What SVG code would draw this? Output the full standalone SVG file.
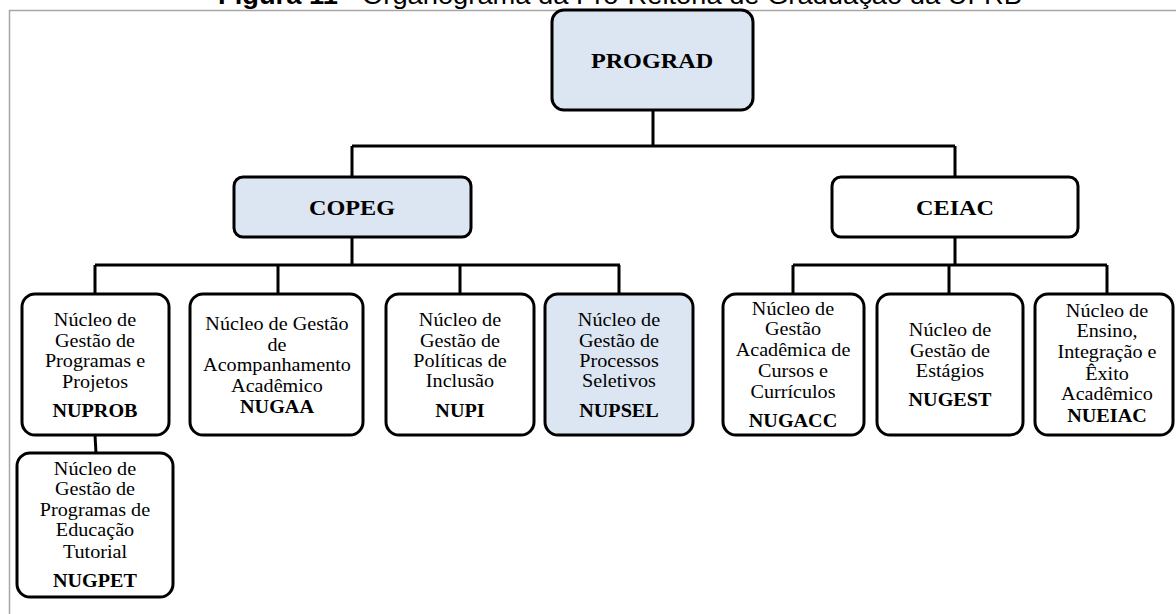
<svg xmlns="http://www.w3.org/2000/svg" width="1176" height="614" viewBox="0 0 1176 614">
<style>
.box{fill:#ffffff;stroke:#000;stroke-width:3}
.hl{fill:#dce6f2}
.t{font-family:"Liberation Serif","Times New Roman",serif;font-size:18px;text-anchor:middle;fill:#000}
.b{font-weight:bold}
.big{font-size:22px;font-weight:bold}
.con{fill:none;stroke:#000;stroke-width:3}
.frame{fill:none;stroke:#a6a6a6;stroke-width:1.5}
</style>
<rect width="1176" height="614" fill="#fff"/>
<text x="218" y="4" textLength="804" lengthAdjust="spacingAndGlyphs" style="font-family:'Liberation Sans',Arial,sans-serif;font-size:26px;fill:#000"><tspan font-weight="bold">Figura 11</tspan> - Organograma da Pró-Reitoria de Graduação da UFRB</text>
<path class="frame" d="M1176 10.5 H9.5 V614"/>
<g id="connectors">
<path class="con" d="M653 110 V146 M352 146 H955 M352 146 V177 M955 146 V177"/>
<path class="con" d="M352 237 V265 M95 265 H620 M95 265 V294 M278 265 V294 M460 265 V294 M619 265 V294"/>
<path class="con" d="M955 237 V265 M793 265 H1107 M793 265 V294 M949 265 V294 M1107 265 V294"/>
<path class="con" d="M95 435 L96 453"/>
</g>
<g id="prograd">
<rect class="box hl" x="552" y="10" width="201" height="100" rx="12"/>
<g transform="translate(652,0) scale(1.1,1)"><text class="t big" x="0" y="68">PROGRAD</text></g>
</g>
<g id="copeg">
<rect class="box hl" x="234" y="177" width="237" height="60" rx="9"/>
<g transform="translate(352,0) scale(1.1,1)"><text class="t big" x="0" y="215">COPEG</text></g>
</g>
<g id="ceiac">
<rect class="box" x="832" y="177" width="246" height="60" rx="9"/>
<g transform="translate(955,0) scale(1.1,1)"><text class="t big" x="0" y="215">CEIAC</text></g>
</g>
<g id="nuprob">
<rect class="box" x="22" y="294" width="147" height="141" rx="13"/>
<g transform="translate(95,0) scale(1.12,1)">
<text class="t" x="0" y="326">Núcleo de</text>
<text class="t" x="0" y="347">Gestão de</text>
<text class="t" x="0" y="367">Programas e</text>
<text class="t" x="0" y="388">Projetos</text>
<text class="t b" x="0" y="417">NUPROB</text>
</g>
</g>
<g id="nugaa">
<rect class="box" x="190" y="294" width="173" height="141" rx="13"/>
<g transform="translate(277,0) scale(1.12,1)">
<text class="t" x="0" y="330">Núcleo de Gestão</text>
<text class="t" x="0" y="351">de</text>
<text class="t" x="0" y="371">Acompanhamento</text>
<text class="t" x="0" y="392">Acadêmico</text>
<text class="t b" x="0" y="413">NUGAA</text>
</g>
</g>
<g id="nupi">
<rect class="box" x="386" y="294" width="148" height="141" rx="13"/>
<g transform="translate(460,0) scale(1.12,1)">
<text class="t" x="0" y="326">Núcleo de</text>
<text class="t" x="0" y="347">Gestão de</text>
<text class="t" x="0" y="367">Políticas de</text>
<text class="t" x="0" y="387">Inclusão</text>
<text class="t b" x="0" y="417">NUPI</text>
</g>
</g>
<g id="nupsel">
<rect class="box hl" x="545" y="294" width="148" height="141" rx="13"/>
<g transform="translate(619,0) scale(1.12,1)">
<text class="t" x="0" y="326">Núcleo de</text>
<text class="t" x="0" y="347">Gestão de</text>
<text class="t" x="0" y="367">Processos</text>
<text class="t" x="0" y="387">Seletivos</text>
<text class="t b" x="0" y="417">NUPSEL</text>
</g>
</g>
<g id="nugacc">
<rect class="box" x="723" y="294" width="141" height="141" rx="13"/>
<g transform="translate(793,0) scale(1.12,1)">
<text class="t" x="0" y="315">Núcleo de</text>
<text class="t" x="0" y="335">Gestão</text>
<text class="t" x="0" y="356">Acadêmica de</text>
<text class="t" x="0" y="377">Cursos e</text>
<text class="t" x="0" y="398">Currículos</text>
<text class="t b" x="0" y="427">NUGACC</text>
</g>
</g>
<g id="nugest">
<rect class="box" x="877" y="294" width="146" height="141" rx="13"/>
<g transform="translate(950,0) scale(1.12,1)">
<text class="t" x="0" y="336">Núcleo de</text>
<text class="t" x="0" y="357">Gestão de</text>
<text class="t" x="0" y="377">Estágios</text>
<text class="t b" x="0" y="406">NUGEST</text>
</g>
</g>
<g id="nueiac">
<rect class="box" x="1035" y="294" width="138" height="141" rx="13"/>
<g transform="translate(1107,0) scale(1.12,1)">
<text class="t" x="0" y="317">Núcleo de</text>
<text class="t" x="0" y="337">Ensino,</text>
<text class="t" x="0" y="358">Integração e</text>
<text class="t" x="0" y="380">Êxito</text>
<text class="t" x="0" y="400">Acadêmico</text>
<text class="t b" x="0" y="422">NUEIAC</text>
</g>
</g>
<g id="nugpet">
<rect class="box" x="17" y="453" width="156" height="144" rx="13"/>
<g transform="translate(95,0) scale(1.12,1)">
<text class="t" x="0" y="475">Núcleo de</text>
<text class="t" x="0" y="495">Gestão de</text>
<text class="t" x="0" y="516">Programas de</text>
<text class="t" x="0" y="536">Educação</text>
<text class="t" x="0" y="558">Tutorial</text>
<text class="t b" x="0" y="587">NUGPET</text>
</g>
</g>
</svg>
